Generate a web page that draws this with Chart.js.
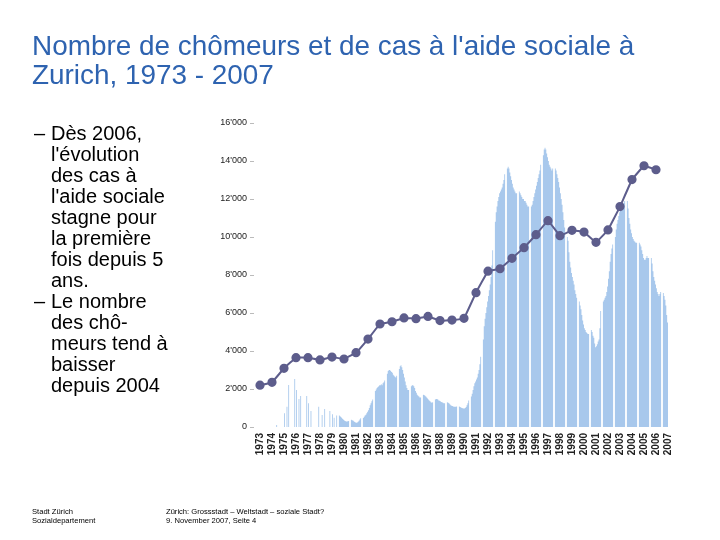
<!DOCTYPE html>
<html><head><meta charset="utf-8">
<script src="https://cdn.jsdelivr.net/npm/chart.js@4/dist/chart.umd.min.js"></script>
<style>
html,body{margin:0;padding:0;background:#fff;width:720px;height:540px;overflow:hidden;}
#wrap{position:relative;width:720px;height:540px;}
#chart{position:absolute;left:0;top:0;}
.title{position:absolute;left:32px;top:30.5px;font-family:"Liberation Sans",Arial,sans-serif;font-size:27.9px;line-height:29px;color:#2e63b0;white-space:nowrap;}
.bul{position:absolute;left:51px;font-family:"Liberation Sans",Arial,sans-serif;font-size:20px;line-height:21px;color:#000;white-space:nowrap;}
.dash{position:absolute;left:-17px;top:0;}
.foot{position:absolute;font-family:"Liberation Sans",Arial,sans-serif;font-size:7.6px;line-height:9px;color:#000;white-space:nowrap;}
</style></head>
<body><div id="wrap">
<canvas id="chart" width="720" height="540"></canvas>
<div class="title">Nombre de chômeurs et de cas à l'aide sociale à<br>Zurich, 1973 - 2007</div>
<div class="bul" style="top:122.5px"><span class="dash">–</span>Dès 2006,<br>l'évolution<br>des cas à<br>l'aide sociale<br>stagne pour<br>la première<br>fois depuis 5<br>ans.</div>
<div class="bul" style="top:290.5px"><span class="dash">–</span>Le nombre<br>des chô-<br>meurs tend à<br>baisser<br>depuis 2004</div>
<div class="foot" style="left:32px;top:507px">Stadt Zürich<br>Sozialdepartement</div>
<div class="foot" style="left:166px;top:507px">Zürich: Grossstadt – Weltstadt – soziale Stadt?<br>9. November 2007, Seite 4</div>
</div>
<script>
const years = ['1973','1974','1975','1976','1977','1978','1979','1980','1981','1982','1983','1984','1985','1986','1987','1988','1989','1990','1991','1992','1993','1994','1995','1996','1997','1998','1999','2000','2001','2002','2003','2004','2005','2006','2007'];

const socialAidCases = [2200,2350,3090,3650,3650,3530,3680,3580,3910,4630,5420,5540,5740,5700,5820,5600,5630,5720,7070,8200,8330,8880,9440,10120,10860,10070,10350,10260,9720,10370,11600,13020,13750,13540,null];

// Unemployed persons, monthly (Jan..Dec) per year
const unemployedMonthly = [
  [0,0,0,0,0,0,0,0,0,0,0,0],
  [0,0,0,0,0,0,0,0,0,0,0,100],
  [0,0,0,0,0,0,720,0,0,1070,0,2210],
  [0,0,0,0,2530,0,1950,0,0,1470,0,1630],
  [0,0,0,0,1630,0,1250,0,0,840,0,0],
  [0,0,0,0,1070,0,0,0,630,0,0,950],
  [0,0,0,840,0,0,670,0,490,0,0,600],
  [600,560,520,470,420,380,340,310,290,290,300,320],
  [380,360,340,300,260,240,230,240,280,330,400,460],
  [480,540,600,650,720,800,880,1000,1150,1250,1350,1450],
  [1900,1980,2050,2100,2150,2200,2200,2250,2200,2300,2350,2450],
  [2800,2950,3000,3000,2950,2900,2850,2750,2700,2650,2600,2700],
  [3050,3200,3250,3150,3000,2800,2600,2400,2200,2050,1950,1950],
  [2150,2200,2200,2150,2050,1900,1800,1700,1650,1600,1550,1550],
  [1700,1680,1650,1600,1550,1500,1450,1400,1350,1300,1280,1300],
  [1450,1480,1480,1450,1400,1380,1350,1320,1300,1280,1250,1250],
  [1300,1280,1250,1200,1150,1120,1100,1080,1070,1070,1070,1080],
  [1080,1050,1030,1000,990,980,980,1000,1050,1150,1250,1400],
  [1600,1750,1950,2150,2300,2400,2500,2600,2800,3000,3300,3700],
  [4600,5300,5700,6000,6300,6600,6900,7200,7500,7900,8500,9300],
  [10800,11300,11600,11900,12100,12300,12400,12500,12600,12800,13000,13300],
  [13600,13700,13600,13400,13200,13000,12800,12600,12500,12400,12300,12300],
  [12400,12300,12200,12100,12000,12000,11900,11900,11800,11700,11600,11600],
  [11600,11700,11900,12100,12300,12500,12700,12900,13100,13300,13500,13800],
  [14300,14600,14700,14600,14400,14200,14000,13800,13700,13600,13500,13600],
  [13600,13500,13300,13100,12900,12600,12300,12000,11700,11300,10900,10500],
  [10000,9800,9200,8700,8400,8100,7900,7700,7500,7200,7000,6800],
  [6600,6400,6200,5900,5600,5400,5200,5100,5000,4950,4900,4900],
  [5100,5000,4800,4700,4400,4200,4250,4350,4500,4600,5200,6100],
  [6600,6700,6800,6900,7100,7400,7800,8200,8700,9100,9400,9600],
  [10000,10400,10700,10900,11100,11300,11400,11500,11600,11700,11800,11900],
  [11900,11500,11000,10700,10400,10200,10000,9900,9800,9750,9700,9700],
  [9700,9600,9500,9300,9100,8900,8800,8800,8900,9000,8900,8900],
  [8900,8600,8200,7900,7700,7500,7300,7100,7000,6900,7000,7100],
  [7050,6900,6700,6400,5900,5500,0,0,0,0,0,0]
];

const yTicks = [0,2000,4000,6000,8000,10000,12000,14000,16000];

// build stepped area points from monthly arrays (one band per year, white gap between years)
const gap = 0.15;
const areaPoints = [];
unemployedMonthly.forEach((row, i) => {
  const start = i - 0.5 + gap / 2, w = (1 - gap) / 12;
  row.forEach((v, j) => areaPoints.push({x: start + j * w, y: v}));
  areaPoints.push({x: start + 12 * w, y: 0});
});

const fmt = v => v === 0 ? '0' : (Math.floor(v / 1000) + "'" + String(v % 1000).padStart(3, '0'));

new Chart(document.getElementById('chart'), {
  type: 'line',
  data: {
    labels: years,
    datasets: [
      {
        label: 'Arbeitslose',
        data: areaPoints,
        xAxisID: 'xm',
        stepped: true,
        fill: 'origin',
        backgroundColor: '#a8c8ec',
        borderWidth: 0,
        borderColor: 'rgba(0,0,0,0)',
        pointRadius: 0,
        order: 2
      },
      {
        label: 'Sozialhilfefälle',
        data: socialAidCases,
        xAxisID: 'x',
        borderColor: '#5d5d8c',
        backgroundColor: '#5d5d8c',
        pointBackgroundColor: '#5d5d8c',
        pointBorderColor: '#5d5d8c',
        borderWidth: 2,
        pointRadius: 3.6,
        tension: 0.05,
        fill: false,
        order: 1
      }
    ]
  },
  options: {
    responsive: false,
    animation: false,
    devicePixelRatio: 1,
    layout: {padding: {left: 0, top: 123, right: 46, bottom: 0}},
    plugins: {legend: {display: false}, tooltip: {enabled: false}},
    scales: {
      x: {
        type: 'category',
        offset: true,
        grid: {display: false, drawTicks: false},
        border: {display: false},
        ticks: {
          autoSkip: false, minRotation: 90, maxRotation: 90, padding: 6,
          color: '#222', font: {family: 'Liberation Sans', size: 10, weight: 'bold'}
        },
        afterFit: s => { s.height = 113; }
      },
      xm: {
        type: 'linear',
        display: false,
        min: -0.5,
        max: years.length - 0.5
      },
      y: {
        min: 0, max: 16000,
        afterBuildTicks: s => { s.ticks = yTicks.map(v => ({value: v})); },
        grid: {drawOnChartArea: false, drawTicks: true, tickLength: 4, color: '#bbb'},
        border: {display: false},
        ticks: {
          padding: 3, color: '#222',
          font: {family: 'Liberation Sans', size: 9},
          callback: v => fmt(v)
        },
        afterFit: s => { s.width = 254; }
      }
    }
  }
});
</script>
</body></html>
